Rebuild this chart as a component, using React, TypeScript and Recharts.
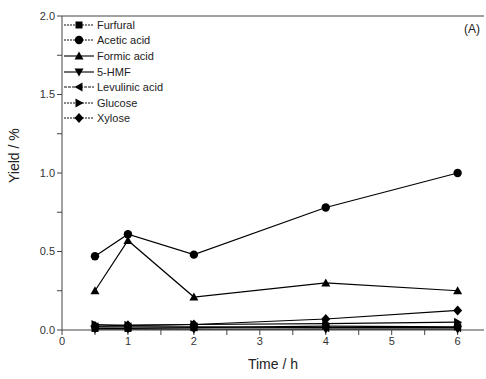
import { LineChart, Line, XAxis, YAxis, ReferenceLine } from "recharts";

const times = [0.5, 1, 2, 4, 6];
const seriesNames = ["Furfural", "Acetic acid", "Formic acid", "5-HMF", "Levulinic acid", "Glucose", "Xylose"];
const furfural = [0.01, 0.01, 0.015, 0.025, 0.02];
const aceticAcid = [0.47, 0.61, 0.48, 0.78, 1.0];
const formicAcid = [0.25, 0.57, 0.21, 0.3, 0.25];
const hmf = [0.005, 0.005, 0.005, 0.005, 0.005];
const levulinicAcid = [0.02, 0.02, 0.02, 0.015, 0.015];
const glucose = [0.035, 0.03, 0.035, 0.04, 0.05];
const xylose = [0.025, 0.03, 0.035, 0.07, 0.125];
const xTicks = [0, 0.5, 1, 1.5, 2, 2.5, 3, 3.5, 4, 4.5, 5, 5.5, 6];
const yTicks = [0, 0.25, 0.5, 0.75, 1, 1.25, 1.5, 1.75, 2];

const allSeries = [furfural, aceticAcid, formicAcid, hmf, levulinicAcid, glucose, xylose];
const keys = ["s0", "s1", "s2", "s3", "s4", "s5", "s6"];
const shapes = ["square", "circle", "up", "down", "left", "right", "diamond"];

const data = times.map((t, i) => {
  const row: any = { time: t };
  allSeries.forEach((s, j) => (row[keys[j]] = s[i]));
  return row;
});

const font = "Liberation Sans, Arial, sans-serif";

function marker(shape: string, cx: number, cy: number, key?: any) {
  const c = "#000";
  switch (shape) {
    case "square":
      return <rect key={key} x={cx - 3.5} y={cy - 3.5} width={7} height={7} fill={c} />;
    case "circle":
      return <circle key={key} cx={cx} cy={cy} r={4.2} fill={c} />;
    case "up":
      return <polygon key={key} points={`${cx},${cy - 4.5} ${cx - 4.5},${cy + 3.5} ${cx + 4.5},${cy + 3.5}`} fill={c} />;
    case "down":
      return <polygon key={key} points={`${cx},${cy + 4.5} ${cx - 4.5},${cy - 3.5} ${cx + 4.5},${cy - 3.5}`} fill={c} />;
    case "left":
      return <polygon key={key} points={`${cx - 4.5},${cy} ${cx + 3.5},${cy - 4.5} ${cx + 3.5},${cy + 4.5}`} fill={c} />;
    case "right":
      return <polygon key={key} points={`${cx + 4.5},${cy} ${cx - 3.5},${cy - 4.5} ${cx - 3.5},${cy + 4.5}`} fill={c} />;
    default:
      return <polygon key={key} points={`${cx},${cy - 5} ${cx + 4.5},${cy} ${cx},${cy + 5} ${cx - 4.5},${cy}`} fill={c} />;
  }
}

const legendDash = ["2 1", "2 1", undefined, undefined, "3 1", "2 1", "2 1"];

function LegendBox() {
  return (
    <div style={{ position: "absolute", left: 63, top: 17, fontFamily: font, fontSize: 11, color: "#222" }}>
      {seriesNames.map((n, i) => (
        <div key={n} style={{ display: "flex", alignItems: "center", height: 15.6 }}>
          <svg width={32} height={12}>
            <line x1={1} y1={6} x2={31} y2={6} stroke="#111" strokeWidth={1.2} strokeDasharray={legendDash[i]} />
            {marker(shapes[i], 16, 6)}
          </svg>
          <span style={{ marginLeft: 2 }}>{n}</span>
        </div>
      ))}
    </div>
  );
}

const fmtY = (v: number) => (Math.abs((v * 2) % 1) < 1e-9 ? v.toFixed(1) : "");
const fmtX = (v: number) => (Number.isInteger(v) ? String(v) : "");

export default function App() {
  return (
    <div style={{ position: "absolute", left: 0, top: 0, width: 486, height: 379, background: "#fff" }}>
      <LineChart width={486} height={379} data={data} margin={{ top: 16, right: 2, left: 0, bottom: 0 }}>
        <XAxis
          dataKey="time"
          type="number"
          domain={[0, 6.4]}
          ticks={xTicks}
          tickFormatter={fmtX}
          height={49}
          stroke="#444"
          tickSize={5}
          tick={{ fill: "#333", fontSize: 11, fontFamily: font }}
          label={{ value: "Time / h", position: "insideBottom", offset: 10, fill: "#222", fontSize: 14, fontFamily: font }}
        />
        <YAxis
          type="number"
          domain={[0, 2]}
          ticks={yTicks}
          tickFormatter={fmtY}
          width={62}
          stroke="#444"
          tickSize={5}
          tick={{ fill: "#333", fontSize: 11, fontFamily: font }}
          label={{ value: "Yield / %", angle: -90, position: "insideLeft", offset: 14, dy: 10, fill: "#222", fontSize: 14, fontFamily: font }}
        />
        <ReferenceLine y={2} stroke="#444" />
        {keys.map((k, i) => (
          <Line
            key={k}
            dataKey={k}
            name={seriesNames[i]}
            stroke="#000"
            strokeWidth={1.2}
            isAnimationActive={false}
            dot={(p: any) => marker(shapes[i], p.cx, p.cy, `${k}-${p.index}`)}
          />
        ))}
      </LineChart>
      <LegendBox />
      <div style={{ position: "absolute", left: 464, top: 22, fontFamily: font, fontSize: 12, color: "#222" }}>(A)</div>
    </div>
  );
}
